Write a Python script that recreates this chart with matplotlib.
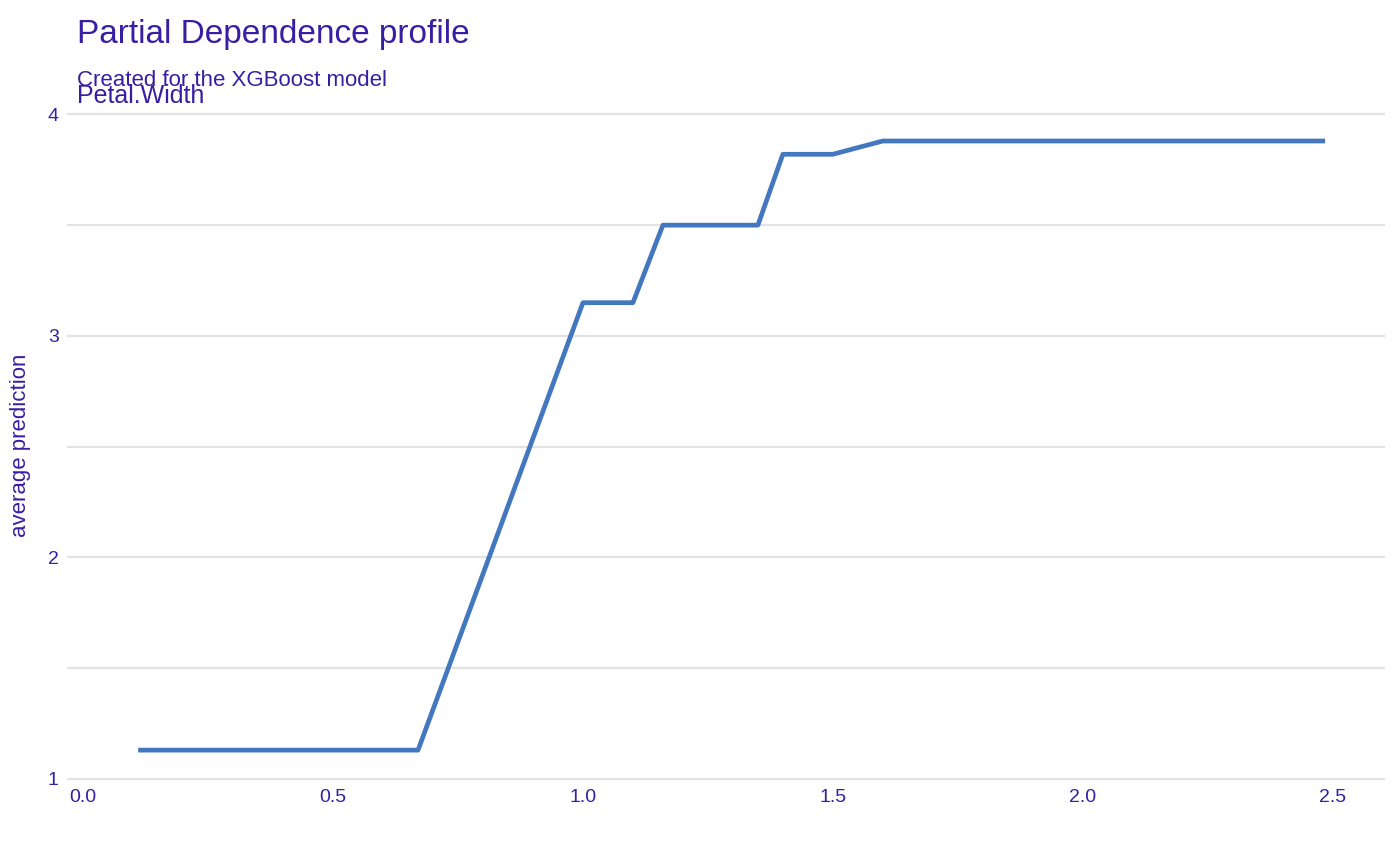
import matplotlib
matplotlib.use("Agg")
import matplotlib.pyplot as plt

plt.rcParams["font.family"] = ["Liberation Sans", "DejaVu Sans"]
INK, LINE = "#371ea3", "#4378bf"

petal_width = [0.11, 0.67, 1.0, 1.1, 1.16, 1.35, 1.4, 1.5, 1.6, 2.485]
avg_pred = [1.13, 1.13, 3.15, 3.15, 3.5, 3.5, 3.82, 3.82, 3.88, 3.88]
xticks = [0.0, 0.5, 1.0, 1.5, 2.0, 2.5]
yticks = [1, 2, 3, 4]

fig = plt.figure(figsize=(14, 8.66), dpi=100)
ax = fig.add_axes([0.048, 0.098, 0.941, 0.775])
ax.plot(petal_width, avg_pred, color=LINE, lw=3.4, solid_capstyle="butt")
ax.set_xlim(-0.032, 2.604)
ax.set_ylim(0.99, 4.02)
ax.set_xticks(xticks)
ax.set_xticklabels([f"{v:.1f}" for v in xticks])
ax.set_yticks(yticks)
ax.set_yticks([1.5, 2.5, 3.5], minor=True)
ax.grid(axis="y", which="both", color="#e3e3e3", lw=1.6)
ax.set_axisbelow(True)
for s in ax.spines.values():
    s.set_visible(False)
ax.tick_params(which="both", length=0, colors=INK, labelsize=14, pad=6)
ax.set_ylabel("average prediction", color=INK, fontsize=16, labelpad=12)

fig.text(0.055, 0.96, "Partial Dependence profile", color=INK, fontsize=24, va="center")
fig.text(0.055, 0.907, "Created for the XGBoost model", color=INK, fontsize=16, va="center")
fig.text(0.055, 0.889, "Petal.Width", color=INK, fontsize=18, va="center")

fig.savefig("out.png", dpi=100)
